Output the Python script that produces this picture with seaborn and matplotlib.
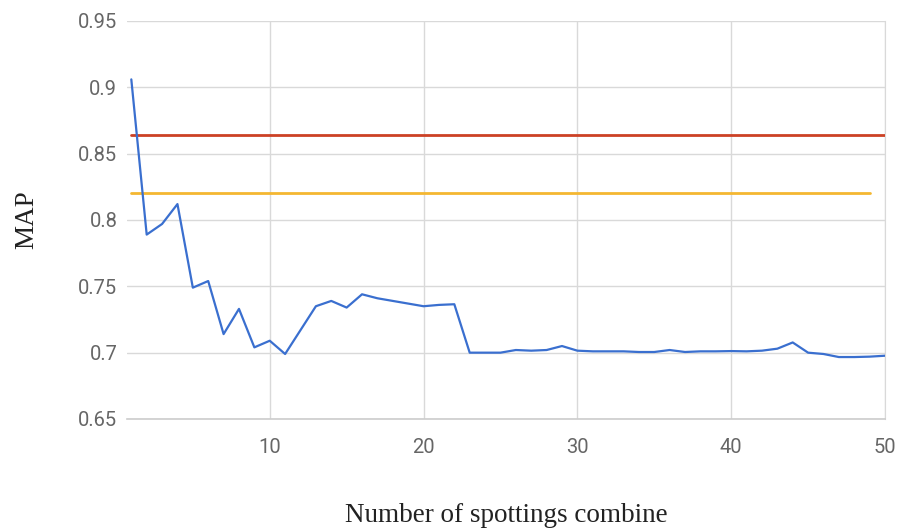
import matplotlib
matplotlib.use("Agg")
import matplotlib.pyplot as plt
import seaborn as sns
import pandas as pd

combine = list(range(1, 51))
map_values = [0.906, 0.789, 0.797, 0.812, 0.749, 0.754, 0.714, 0.733, 0.704, 0.709,
              0.699, 0.717, 0.735, 0.739, 0.734, 0.744, 0.741, 0.739, 0.737, 0.735,
              0.736, 0.7365, 0.700, 0.700, 0.700, 0.702, 0.7015, 0.702, 0.705, 0.7015,
              0.701, 0.701, 0.701, 0.7005, 0.7005, 0.702, 0.7005, 0.701, 0.701, 0.7012,
              0.701, 0.7015, 0.703, 0.7077, 0.700, 0.699, 0.6967, 0.6967, 0.697, 0.6977]
red_level = 0.864
orange_level = 0.820
orange_end = 49
yticks = [0.65, 0.7, 0.75, 0.8, 0.85, 0.9, 0.95]
ytick_labels = ["0.65", "0.7", "0.75", "0.8", "0.85", "0.9", "0.95"]
xticks = [10, 20, 30, 40, 50]

df = pd.DataFrame({"combine": combine, "MAP": map_values})

sns.set_style("white")
fig = plt.figure(figsize=(8.97, 5.29), dpi=100)
ax = fig.add_axes([127 / 897, 1 - 419 / 529, (885 - 127) / 897, (419 - 21) / 529])

ax.set_xlim(0.72, 50)
ax.set_ylim(0.65, 0.95)
ax.set_yticks(yticks)
ax.set_yticklabels(ytick_labels)
ax.set_xticks(xticks)
ax.grid(True, color="#d9d9d9", linewidth=1)
ax.set_axisbelow(True)
for s in ["top", "left"]:
    ax.spines[s].set_visible(False)
ax.spines["right"].set_color("#d9d9d9")
ax.spines["bottom"].set_color("#cccccc")
ax.spines["bottom"].set_linewidth(1.2)

ax.plot([1, 50], [red_level, red_level], color="#cc4125", linewidth=2, zorder=3)
ax.plot([1, orange_end], [orange_level, orange_level], color="#f4b731", linewidth=2, zorder=3)
sns.lineplot(data=df, x="combine", y="MAP", ax=ax, color="#3a6fcf", linewidth=1.6, zorder=4)

ax.tick_params(axis="both", length=0, labelsize=14.5, labelcolor="#666666")
ax.tick_params(axis="y", pad=7)
ax.tick_params(axis="x", pad=14)
for lab in ax.get_xticklabels() + ax.get_yticklabels():
    lab.set_fontfamily("Roboto")

ax.set_xlabel("Number of spottings combine", fontfamily="Liberation Serif", fontsize=19.5,
              color="#222222", labelpad=33)
ax.set_ylabel("MAP", fontfamily="Liberation Serif", fontsize=19.5, color="#222222", labelpad=28)

fig.savefig("out.png", dpi=100)
